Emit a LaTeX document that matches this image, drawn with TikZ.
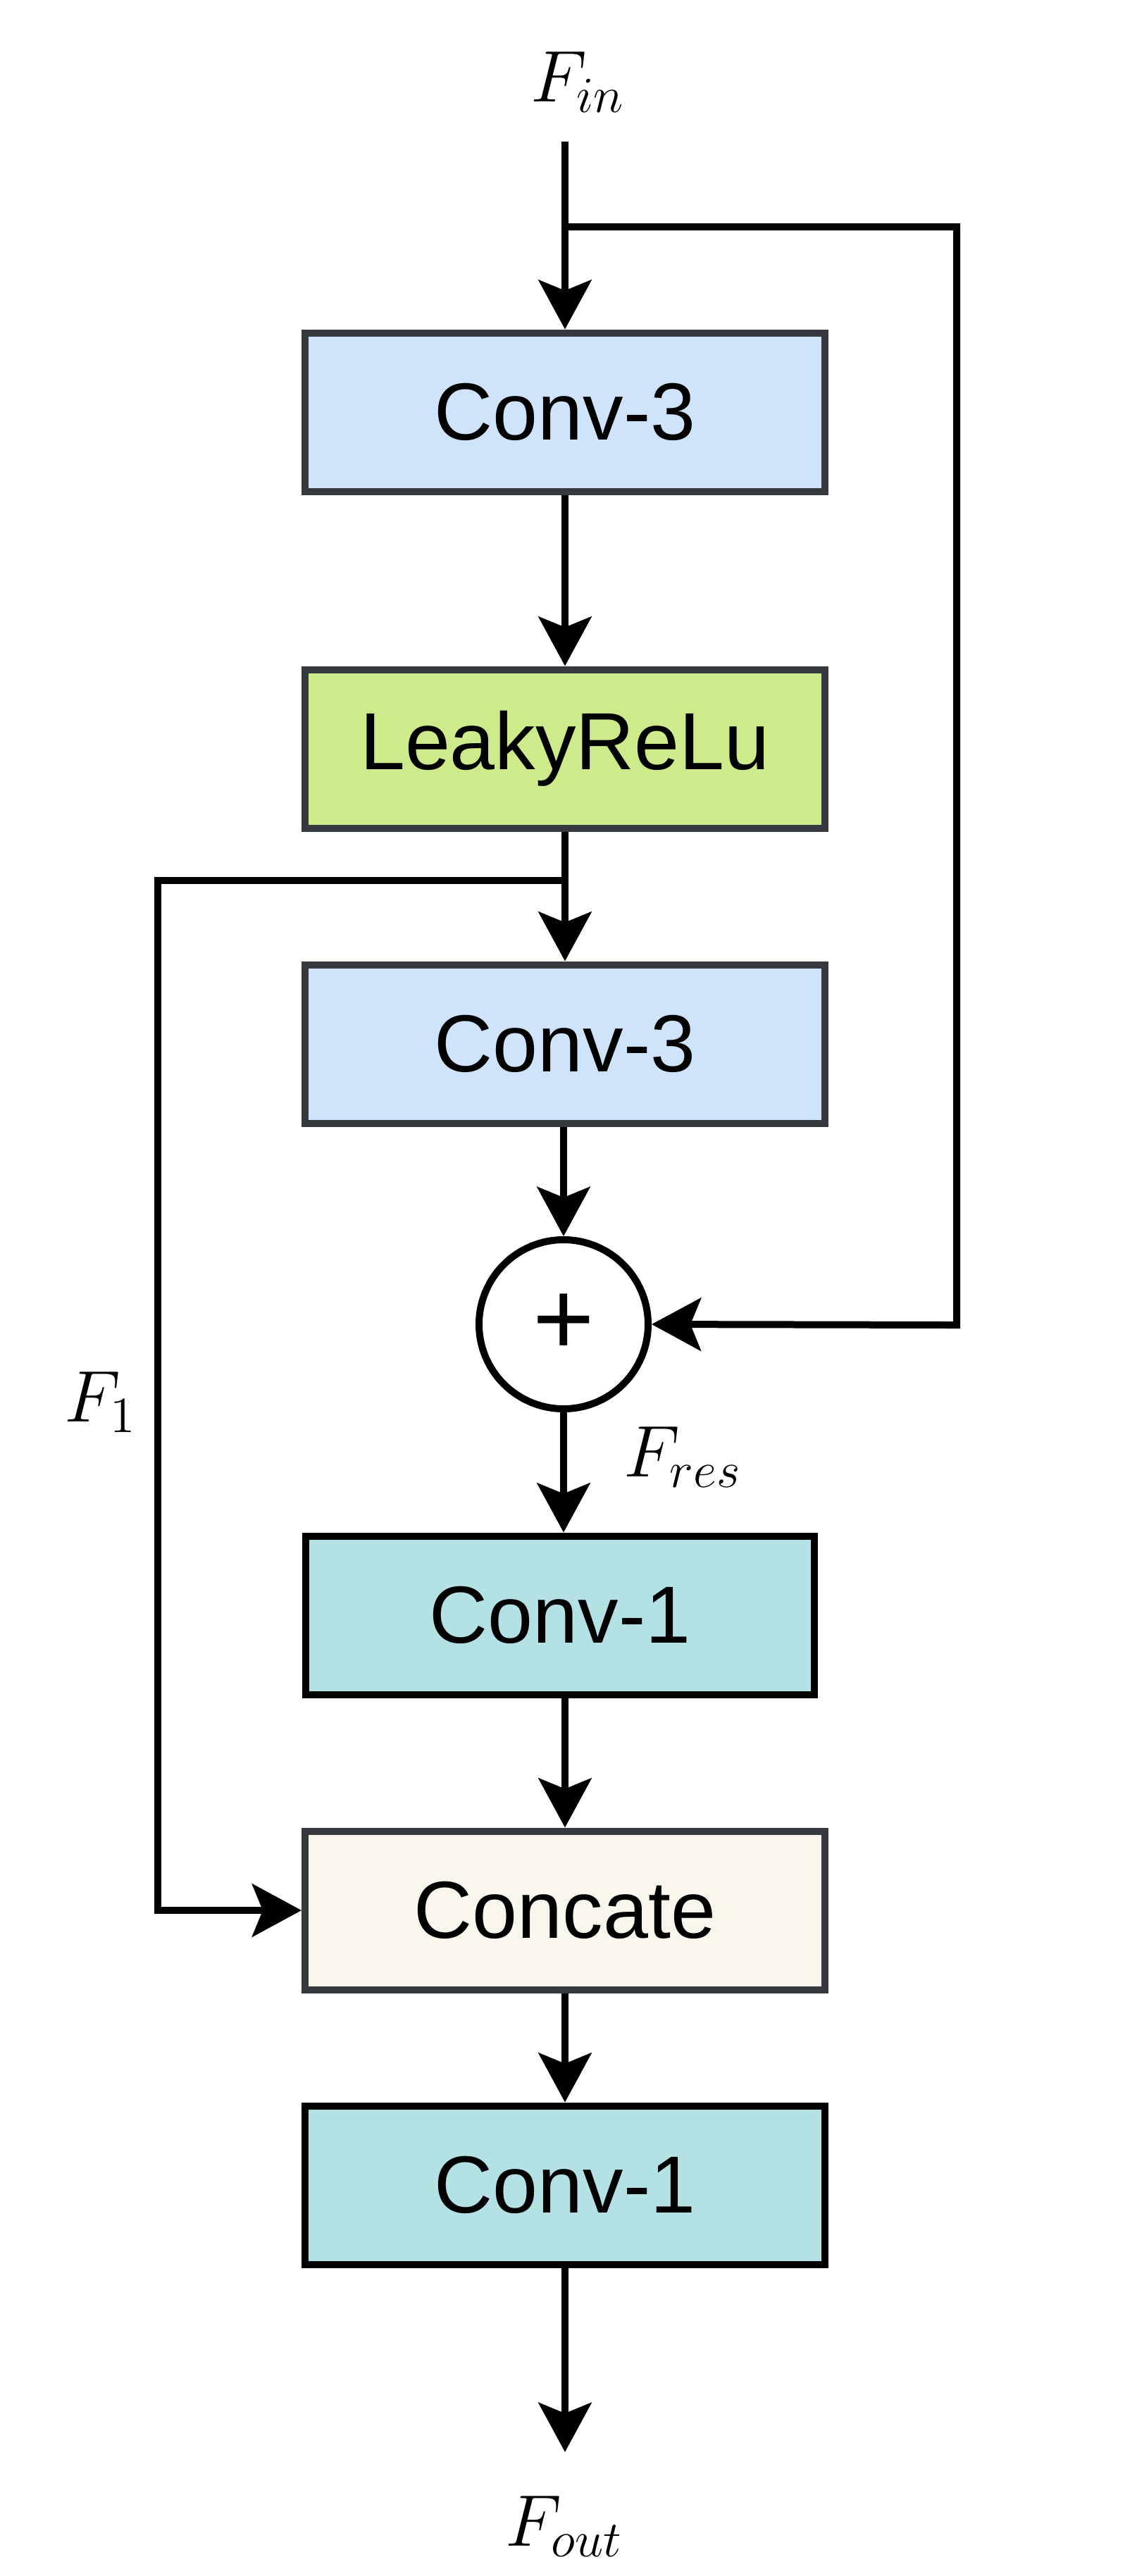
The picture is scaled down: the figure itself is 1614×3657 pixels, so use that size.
\documentclass[tikz,border=0pt]{standalone}
\usepackage{fontspec}
\setsansfont{Liberation Sans}
\usetikzlibrary{arrows.meta}
\definecolor{cblue}{HTML}{CFE3FA}
\definecolor{cgreen}{HTML}{CDEB8B}
\definecolor{cteal}{HTML}{B4E1E3}
\definecolor{ccream}{HTML}{F9F7ED}
\definecolor{cborder}{HTML}{36393D}
\tikzset{
  blk/.style={draw=cborder, line width=2pt, minimum width=147.6pt, minimum height=45pt,
    inner sep=0pt, font=\sffamily\fontsize{23}{27}\selectfont},
  conn/.style={line width=2pt, -{Stealth[length=14pt, width=15pt, inset=3pt]}},
  wire/.style={line width=2pt},
  lbl/.style={inner sep=0pt, anchor=base west, font=\fontsize{20.5}{24}\selectfont}
}
\begin{document}
\begin{tikzpicture}[x=0.2pt, y=-0.2pt]
\useasboundingbox (0,0) rectangle (1614,3657);
% blocks
\node[blk, fill=cblue] (c3a) at (802,585) {Conv-3};
\node[blk, fill=cgreen] (lr) at (802,1063) {LeakyReLu};
\node[blk, fill=cblue] (c3b) at (802,1482) {Conv-3};
\node[circle, draw=black, fill=white, line width=2pt, minimum size=48pt, inner sep=0pt,
  font=\sffamily\fontsize{30}{34}\selectfont] (add) at (800,1880) {+};
\node[blk, draw=black, fill=cteal, minimum width=144.2pt] (c1a) at (795,2293) {Conv-1};
\node[blk, fill=ccream] (cat) at (802,2712) {Concate};
\node[blk, draw=black, fill=cteal] (c1b) at (802,3102) {Conv-1};
% coordinates
\coordinate (in) at (802,201);
\coordinate (split1) at (802,322);
\coordinate (r1) at (1358,322);
\coordinate (r2) at (1358,1881);
\coordinate (split2) at (802,1250);
\coordinate (l1) at (224,1250);
\coordinate (l2) at (224,2712);
\coordinate (out) at (802,3481);
% labels
\node[lbl] (fin) at (752,144) {$F_{in}$};
\node[lbl] (fout) at (716,3614) {$F_{out}$};
\node[lbl] (f1) at (90,2018) {$F_1$};
\node[lbl] (fres) at (884,2096) {$F_{res}$};
% connectors
\draw[conn] (in) -- (c3a.north);
\draw[conn] (split1) -- (r1) -- (r2) -- (add.east);
\draw[conn] (c3a.south) -- (lr.north);
\draw[conn] (lr.south) -- (c3b.north);
\draw[conn] (split2) -- (l1) -- (l2) -- (cat.west);
\draw[conn] (add.north |- c3b.south) -- (add.north);
\draw[conn] (add.south) -- (add.south |- c1a.north);
\draw[conn] (c1a.south -| cat.north) -- (cat.north);
\draw[conn] (cat.south) -- (c1b.north);
\draw[conn] (c1b.south) -- (out);
\end{tikzpicture}
\end{document}
